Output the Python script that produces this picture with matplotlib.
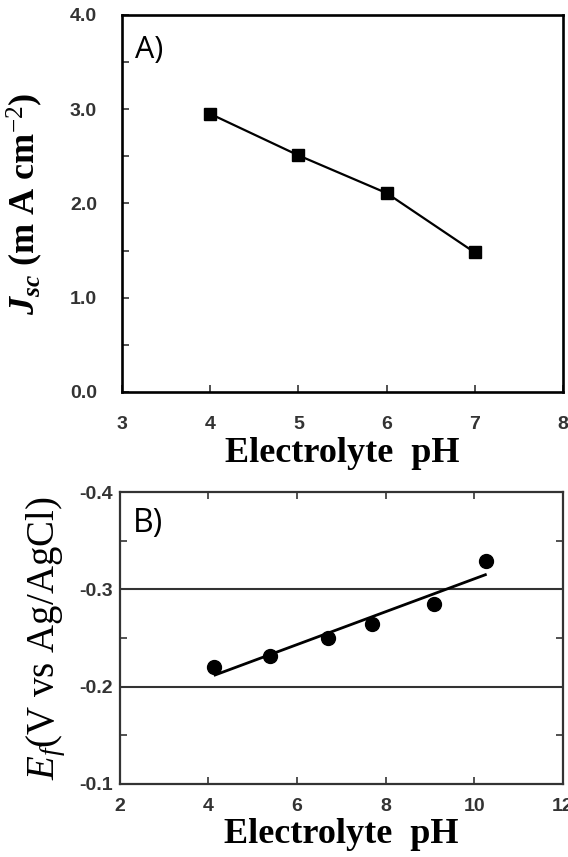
import matplotlib
matplotlib.use("Agg")
import matplotlib.pyplot as plt
from matplotlib.ticker import MultipleLocator

# ---- data ----
ph_a = [4, 5, 6, 7]
jsc_a = [2.95, 2.51, 2.11, 1.48]

ph_b = [4.12, 5.38, 6.69, 7.69, 9.08, 10.27]
ef_b = [-0.220, -0.231, -0.250, -0.264, -0.285, -0.329]
fit_x = [4.15, 10.25]
fit_y = [-0.212, -0.315]
hlines_b = [-0.3, -0.2]

xticks_a = [3, 4, 5, 6, 7, 8]
yticks_a = [0.0, 1.0, 2.0, 3.0, 4.0]
xticks_b = [2, 4, 6, 8, 10, 12]
yticks_b = [-0.4, -0.3, -0.2, -0.1]

plt.rcParams['axes.unicode_minus'] = False
plt.rcParams['mathtext.fontset'] = 'custom'
plt.rcParams['mathtext.rm'] = 'Liberation Serif'
plt.rcParams['mathtext.it'] = 'Liberation Serif:italic'
plt.rcParams['mathtext.bf'] = 'Liberation Serif:bold'
plt.rcParams['mathtext.bfit'] = 'Liberation Serif:bold:italic'

fig = plt.figure(figsize=(5.68, 8.57), dpi=100)
ax1 = fig.add_axes([0.215, 0.5426, 0.776, 0.440])
ax2 = fig.add_axes([0.211, 0.0852, 0.780, 0.3407])

tickfont = dict(family='Liberation Sans', weight='bold', size=14)
labfont = dict(family='Liberation Serif', weight='bold', size=26)

# ---- panel A ----
ax1.plot(ph_a, jsc_a, color='black', lw=1.6, marker='s', ms=9, mfc='black', mec='black')
ax1.set_xlim(3, 8)
ax1.set_ylim(0, 4)
ax1.set_xticks(xticks_a)
ax1.set_yticks(yticks_a)
ax1.set_xticklabels([str(v) for v in xticks_a], fontdict=tickfont, color='#333333')
ax1.set_yticklabels([f"{v:.1f}" for v in yticks_a], fontdict=tickfont, color='#333333')
ax1.yaxis.set_minor_locator(MultipleLocator(0.5))
ax1.tick_params(axis='both', which='both', direction='in', length=5, width=1.2, color='#333333')
ax1.tick_params(axis='x', pad=17)
ax1.tick_params(axis='y', pad=18)
for s in ax1.spines.values():
    s.set_linewidth(1.9)
ax1.set_xlabel('Electrolyte  pH', fontdict=labfont, labelpad=3)
ax1.set_ylabel(r'$\mathbfit{J}_{\mathbfit{sc}}$ (m A cm$^{-2}$)', fontdict=labfont, labelpad=18)
ax1.text(0.03, 0.948, 'A)', transform=ax1.transAxes, ha='left', va='top',
         family='Open Sans', fontsize=22)

# ---- panel B ----
for h in hlines_b:
    ax2.axhline(h, color='#333333', lw=1.5)
ax2.plot(fit_x, fit_y, color='black', lw=2.0)
ax2.plot(ph_b, ef_b, ls='none', marker='o', ms=10, mfc='black', mec='black')
ax2.set_xlim(2, 12)
ax2.set_ylim(-0.1, -0.4)
ax2.set_xticks(xticks_b)
ax2.set_yticks(yticks_b)
ax2.set_xticklabels([str(v) for v in xticks_b], fontdict=tickfont, color='#333333')
ax2.set_yticklabels([f"{v:.1f}" for v in yticks_b], fontdict=tickfont, color='#333333')
ax2.yaxis.set_minor_locator(MultipleLocator(0.05))
ax2.tick_params(axis='both', which='both', direction='in', length=5, width=1.2,
                color='#333333', top=True, right=True)
ax2.tick_params(axis='x', pad=10)
ax2.tick_params(axis='y', pad=5)
for s in ax2.spines.values():
    s.set_linewidth(1.6)
    s.set_color('#333333')
ax2.set_xlabel('Electrolyte  pH', fontdict=labfont, labelpad=2)
ax2.set_ylabel(r'$E_f$(V vs Ag/AgCl)', family='Liberation Serif', fontsize=28, labelpad=8)
ax2.text(0.03, 0.95, 'B)', transform=ax2.transAxes, ha='left', va='top',
         family='Open Sans', fontsize=23)

fig.savefig('out.png', dpi=100)
